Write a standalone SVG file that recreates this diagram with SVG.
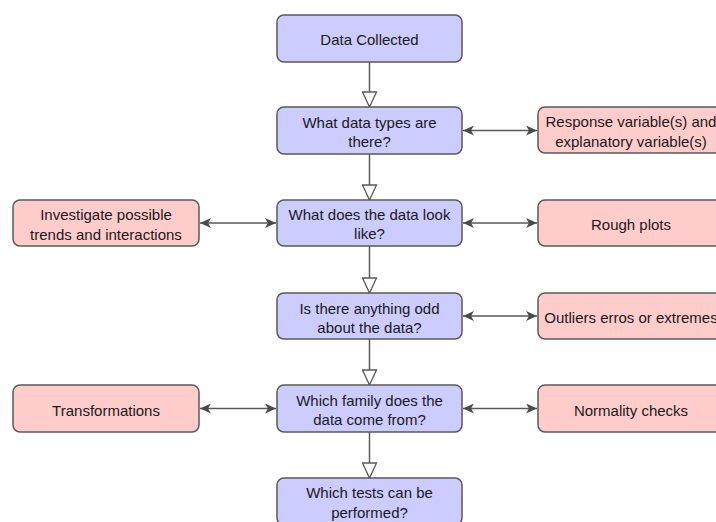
<svg xmlns="http://www.w3.org/2000/svg" width="716" height="522" viewBox="0 0 716 522">
<style>
.bg{fill:#ffffff}
.q rect{fill:#ccccff;stroke:#5a5a5a;stroke-width:1.5}
.a rect{fill:#ffcccc;stroke:#5a5a5a;stroke-width:1.5}
text{font-family:"Liberation Sans",Arial,sans-serif;font-size:15px;fill:#1a1a1a;text-anchor:middle;dominant-baseline:central}
.down{stroke:#5a5a5a;stroke-width:1.5;fill:none;marker-end:url(#hollow)}
.both{stroke:#5a5a5a;stroke-width:1.5;fill:none;marker-start:url(#solid);marker-end:url(#solid)}
</style>
<defs>
<marker id="hollow" markerUnits="userSpaceOnUse" viewBox="-1 -1 17 16" markerWidth="17" markerHeight="16" refX="15" refY="7" orient="auto">
<path d="M0,0 L15,7 L0,14 Z" fill="#ffffff" stroke="#5a5a5a" stroke-width="1.3"/>
</marker>
<marker id="solid" markerUnits="userSpaceOnUse" viewBox="0 0 12 10" markerWidth="12" markerHeight="10" refX="11" refY="5" orient="auto-start-reverse">
<path d="M0,0 L11,5 L0,10 L3,5 Z" fill="#4a4a4a"/>
</marker>
</defs>
<rect class="bg" x="0" y="0" width="716" height="522"/>
<g id="connectors">
<line class="down" x1="369.5" y1="62" x2="369.5" y2="107"/>
<line class="down" x1="369.5" y1="154" x2="369.5" y2="200"/>
<line class="down" x1="369.5" y1="246" x2="369.5" y2="293"/>
<line class="down" x1="369.5" y1="339" x2="369.5" y2="385"/>
<line class="down" x1="369.5" y1="432" x2="369.5" y2="478"/>
<line class="both" x1="463" y1="130.5" x2="537" y2="130.5"/>
<line class="both" x1="200" y1="223" x2="276" y2="223"/>
<line class="both" x1="463" y1="223" x2="537" y2="223"/>
<line class="both" x1="463" y1="316" x2="537" y2="316"/>
<line class="both" x1="200" y1="408.5" x2="276" y2="408.5"/>
<line class="both" x1="463" y1="408.5" x2="537" y2="408.5"/>
</g>
<g id="n1" class="q"><rect x="277" y="15" width="185" height="47" rx="7"/><text x="369.5" y="39">Data Collected</text></g>
<g id="n2" class="q"><rect x="277" y="107" width="185" height="47" rx="7"/><text x="369.5" y="122">What data types are</text><text x="369.5" y="141">there?</text></g>
<g id="n3" class="q"><rect x="277" y="200" width="185" height="46" rx="7"/><text x="369.5" y="214">What does the data look</text><text x="369.5" y="233">like?</text></g>
<g id="n4" class="q"><rect x="277" y="293" width="185" height="46" rx="7"/><text x="369.5" y="308">Is there anything odd</text><text x="369.5" y="327">about the data?</text></g>
<g id="n5" class="q"><rect x="277" y="385" width="185" height="47" rx="7"/><text x="369.5" y="400">Which family does the</text><text x="369.5" y="419">data come from?</text></g>
<g id="n6" class="q"><rect x="277" y="478" width="185" height="47" rx="7"/><text x="369.5" y="492">Which tests can be</text><text x="369.5" y="512">performed?</text></g>
<g id="r1" class="a"><rect x="538" y="107" width="186" height="46" rx="7"/><text x="631" y="121">Response variable(s) and</text><text x="631" y="141">explanatory variable(s)</text></g>
<g id="l1" class="a"><rect x="13" y="200" width="186" height="46" rx="7"/><text x="106" y="214">Investigate possible</text><text x="106" y="234">trends and interactions</text></g>
<g id="r2" class="a"><rect x="538" y="200" width="186" height="46" rx="7"/><text x="631" y="224">Rough plots</text></g>
<g id="r3" class="a"><rect x="538" y="293" width="186" height="46" rx="7"/><text x="631" y="317">Outliers erros or extremes</text></g>
<g id="l2" class="a"><rect x="13" y="385" width="186" height="47" rx="7"/><text x="106" y="410">Transformations</text></g>
<g id="r4" class="a"><rect x="538" y="385" width="186" height="47" rx="7"/><text x="631" y="410">Normality checks</text></g>
</svg>
